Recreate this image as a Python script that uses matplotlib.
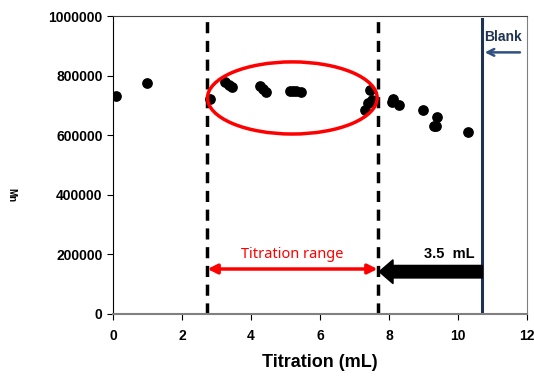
import matplotlib
matplotlib.use("Agg")
import matplotlib.pyplot as plt
from matplotlib.patches import Ellipse, FancyArrow

# data
titr = [0.1, 1.0, 2.8, 3.25, 3.35, 3.45, 4.25, 4.35, 4.45, 5.12, 5.22, 5.32, 5.45,
        7.3, 7.4, 7.5, 7.45, 8.08, 8.12, 8.3, 9.0, 9.4, 9.3, 9.38, 10.3]
mn = [730000, 775000, 722000, 778000, 768000, 762000, 765000, 755000, 745000,
      748000, 750000, 748000, 746000, 685000, 708000, 718000, 752000, 712000,
      722000, 703000, 685000, 661000, 631000, 631000, 611000]

x_lo, x_hi = 2.74, 7.67      # titration range bounds
x_blank = 10.71
ell_center = (5.2, 725000)
ell_w, ell_h = 4.92, 242000

plt.rcParams['font.family'] = ['Liberation Sans', 'DejaVu Sans']

fig = plt.figure(figsize=(5.34, 3.76), dpi=100)
ax = fig.add_axes([0.2116, 0.1649, 0.775, 0.7925])

ax.scatter(titr, mn, s=45, color="black", zorder=3)

ax.axvline(x_lo, ymin=0, ymax=0.99, color="black", lw=2.5, ls=(0, (3.2, 2.2)), zorder=2)
ax.axvline(x_hi, ymin=0, ymax=0.99, color="black", lw=2.5, ls=(0, (3.2, 2.2)), zorder=2)
ax.axvline(x_blank, ymin=0, ymax=0.99, color="#1f3251", lw=2.2, zorder=2)

ax.add_patch(Ellipse(ell_center, ell_w, ell_h, fill=False, ec="#ff0000", lw=2.5, zorder=4))

# titration range double arrow
ax.annotate("", xy=(x_lo, 151000), xytext=(x_hi, 151000),
            arrowprops=dict(arrowstyle="<|-|>", color="#ff0000", lw=2.5,
                            mutation_scale=14, shrinkA=0, shrinkB=0))
ax.text((x_lo + x_hi) / 2, 200000, "Titration range", color="#ff0000",
        fontsize=10.5, ha="center", va="center", family=["Noto Sans", "DejaVu Sans"])

# 3.5 mL arrow
ax.add_patch(FancyArrow(x_blank, 142000, -(x_blank - x_hi - 0.05), 0, width=42000,
                        head_width=80000, head_length=0.4, length_includes_head=True,
                        color="black", zorder=3))
ax.text(9.75, 203000, "3.5  mL", fontsize=10.5, fontweight="bold", ha="center",
        va="center", fontstretch="condensed")

# Blank label and arrow
ax.text(10.76, 930000, "Blank", fontsize=10, fontweight="bold", color="#1f3251",
        ha="left", va="center")
ax.annotate("", xy=(10.78, 878000), xytext=(11.8, 878000),
            arrowprops=dict(arrowstyle="->", color="#2f5080", lw=1.8,
                            mutation_scale=12, shrinkA=0, shrinkB=0))

ax.set_xlim(0, 12)
ax.set_ylim(0, 1000000)
ax.set_xticks([0, 2, 4, 6, 8, 10, 12])
ax.set_yticks([0, 200000, 400000, 600000, 800000, 1000000])
ax.ticklabel_format(axis="y", style="plain", useOffset=False)
ax.tick_params(labelsize=10, length=4, direction="out")
ax.tick_params(axis="x", pad=7)
for lbl in ax.get_xticklabels() + ax.get_yticklabels():
    lbl.set_fontweight("bold")

ax.spines["left"].set_color("black")
ax.spines["bottom"].set_color("#808080")
ax.spines["bottom"].set_linewidth(1.5)
ax.spines["right"].set_color("#808080")
ax.spines["top"].set_color("#404040")

ax.set_xlabel("Titration (mL)", fontsize=13, fontweight="bold", labelpad=8)
fig.text(0.022, 0.48, "Mn", rotation=-90, fontsize=7, fontweight="bold",
         ha="center", va="center")

plt.savefig("out.png", dpi=100)
plt.close()
